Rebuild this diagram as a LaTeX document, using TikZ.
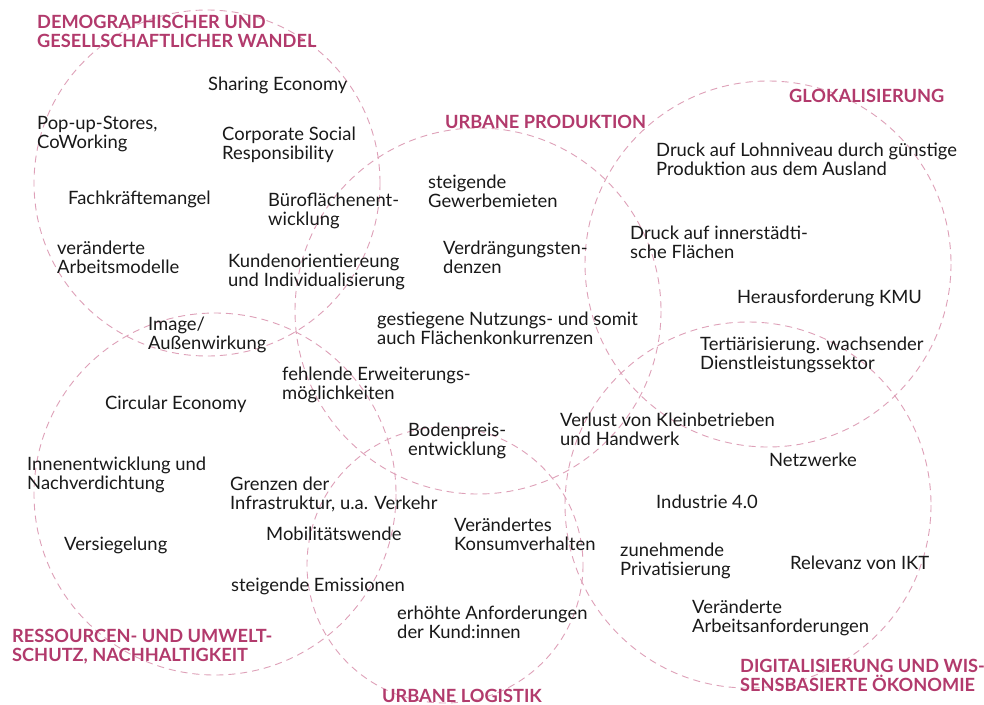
\documentclass[tikz,border=0pt]{standalone}
\usepackage{fontspec}
\setmainfont{Lato}
\definecolor{titlecol}{RGB}{178,58,108}
\definecolor{ringcol}{RGB}{222,160,184}
\definecolor{txtcol}{RGB}{25,25,25}
\begin{document}
\begin{tikzpicture}[x=1pt,y=-1pt,
  ring/.style={draw=ringcol, line width=0.9pt, dash pattern=on 7pt off 5pt},
  item/.style={anchor=base west, align=left, inner sep=0pt, text=txtcol,
    font=\fontsize{18.4}{19.5}\selectfont},
  % two-line items are placed by their last baseline
  item2/.style={item, yshift=-19.5pt},
  heading/.style={anchor=base west, align=left, inner sep=0pt, text=titlecol,
    font=\bfseries\fontsize{18.2}{19}\selectfont},
  heading2/.style={heading, yshift=-19pt}]
\useasboundingbox[fill=white] (0,0) rectangle (984,704);

% dashed topic circles
\draw[ring] (207,183) circle[radius=173];
\draw[ring] (478,311) circle[radius=183];
\draw[ring] (768,264) circle[radius=183];
\draw[ring] (215,494) circle[radius=181];
\draw[ring] (445,565) circle[radius=138];
\draw[ring] (748,505) circle[radius=183];

% topic headings
\node[heading2] (hDemo) at (37,28) {DEMOGRAPHISCHER UND\\GESELLSCHAFTLICHER WANDEL};
\node[heading] (hProd) at (445,128) {URBANE PRODUKTION};
\node[heading] (hGlok) at (789,102) {GLOKALISIERUNG};
\node[heading2] (hRess) at (12,642) {RESSOURCEN- UND UMWELT-\\SCHUTZ, NACHHALTIGKEIT};
\node[heading] (hLog) at (382,702) {URBANE LOGISTIK};
\node[heading2] (hDig) at (740,672) {DIGITALISIERUNG UND WIS-\\SENSBASIERTE ÖKONOMIE};

% factors
\node[item] (t1) at (208,90) {Sharing Economy};
\node[item2] (t2) at (37,129) {Pop-up-Stores,\\CoWorking};
\node[item2] (t3) at (222,140) {Corporate Social\\Responsibility};
\node[item] (t4) at (68,204) {Fachkräftemangel};
\node[item2] (t5) at (268,206) {Büroflächenent-\\wicklung};
\node[item2] (t6) at (57,254) {veränderte\\Arbeitsmodelle};
\node[item2] (t7) at (228,267) {Kundenorientiereung\\und Individualisierung};
\node[item2] (t8) at (148,330) {Image/\\Außenwirkung};
\node[item2] (t9) at (428,188) {steigende\\Gewerbemieten};
\node[item2] (t10) at (443,254) {Verdrängungsten-\\denzen};
\node[item2] (t11) at (377,325) {gestiegene Nutzungs- und somit\\auch Flächenkonkurrenzen};
\node[item2] (t12) at (656,156) {Druck auf Lohnniveau durch günstige\\Produktion aus dem Ausland};
\node[item2] (t13) at (630,239) {Druck auf innerstädti-\\sche Flächen};
\node[item] (t14) at (737,303) {Herausforderung KMU};
\node[item2] (t15) at (700,350) {Tertiärisierung. wachsender\\Dienstleistungssektor};
\node[item2] (t16) at (282,380) {fehlende Erweiterungs-\\möglichkeiten};
\node[item] (t17) at (105,409) {Circular Economy};
\node[item2] (t18) at (408,436) {Bodenpreis-\\entwicklung};
\node[item2] (t19) at (27,470) {Innenentwicklung und\\Nachverdichtung};
\node[item2] (t20) at (230,490) {Grenzen der\\Infrastruktur, u.a. Verkehr};
\node[item] (t21) at (266,540) {Mobilitätswende};
\node[item] (t22) at (64,550) {Versiegelung};
\node[item] (t23) at (231,591) {steigende Emissionen};
\node[item2] (t24) at (397,619) {erhöhte Anforderungen\\der Kund:innen};
\node[item2] (t25) at (454,531) {Verändertes\\Konsumverhalten};
\node[item2] (t26) at (560,426) {Verlust von Kleinbetrieben\\und Handwerk};
\node[item] (t27) at (769,466) {Netzwerke};
\node[item] (t28) at (656,508) {Industrie 4.0};
\node[item2] (t29) at (620,556) {zunehmende\\Privatisierung};
\node[item] (t30) at (790,569) {Relevanz von IKT};
\node[item2] (t31) at (692,613) {Veränderte\\Arbeitsanforderungen};
\end{tikzpicture}
\end{document}
